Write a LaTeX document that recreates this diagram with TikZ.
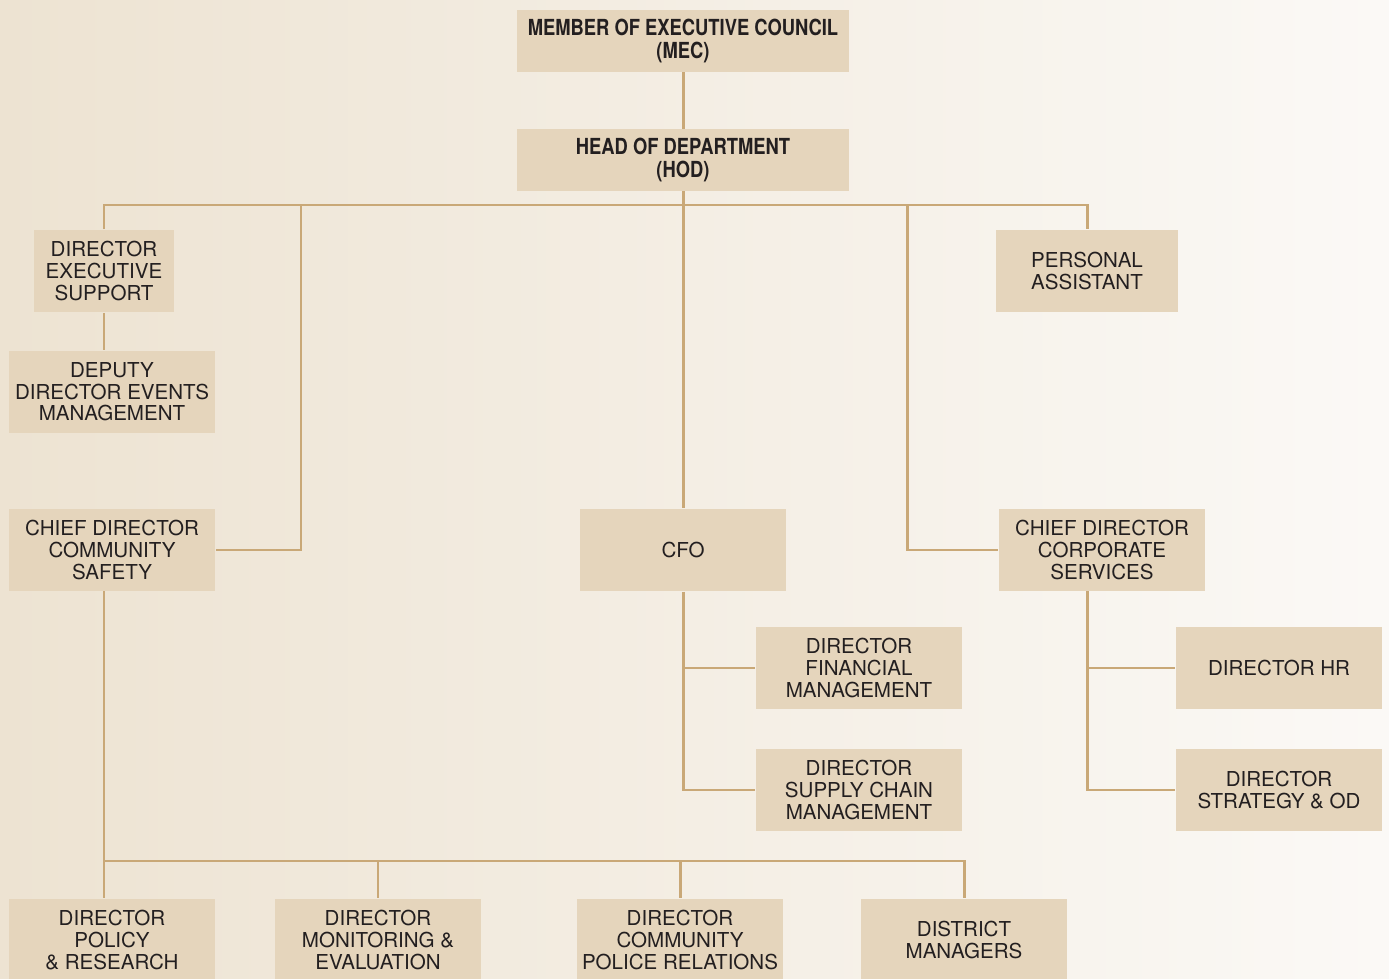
\documentclass[tikz,border=0pt]{standalone}
\usepackage{fontspec}
\setmainfont{TeX Gyre Heros}
\newfontfamily\condfont[FakeStretch=0.83]{TeX Gyre Heros}
\usetikzlibrary{positioning}

\definecolor{boxfill}{RGB}{229,213,188}
\definecolor{linkcol}{RGB}{201,168,119}
\definecolor{textcol}{RGB}{35,31,32}
\definecolor{bgleft}{RGB}{237,227,210}
\definecolor{bgright}{RGB}{251,249,246}

\begin{document}
\begin{tikzpicture}[x=0.02cm, y=-0.02cm,
    box/.style={fill=boxfill, text=textcol, minimum width=4.14cm, minimum height=1.66cm,
        inner sep=0pt, align=center, font=\fontsize{11.7}{12.3}\selectfont},
    topbox/.style={box, minimum width=6.64cm, minimum height=1.24cm,
        font=\condfont\bfseries\fontsize{12.6}{13.6}\selectfont},
    link/.style={draw=linkcol, line width=1.7pt}]
    % Background
    \useasboundingbox (0,0) rectangle (1389,979);
    \shade[left color=bgleft, right color=bgright] (0,0) rectangle (1389,979);

    % Top of the chart
    \node[topbox] (mec) at (683,41) {MEMBER OF EXECUTIVE COUNCIL\\(MEC)};
    \node[topbox] (hod) at (683,160) {HEAD OF DEPARTMENT\\(HOD)};

    % Second level
    \node[box, minimum width=2.8cm] (des) at (104,271) {DIRECTOR\\EXECUTIVE\\SUPPORT};
    \node[box] (dem) at (112,392) {DEPUTY\\DIRECTOR EVENTS\\MANAGEMENT};
    \node[box, minimum width=3.64cm] (pa) at (1087,271) {PERSONAL\\ASSISTANT};
    \node[box] (cdcs) at (112,550) {CHIEF DIRECTOR\\COMMUNITY\\SAFETY};
    \node[box] (cfo) at (683,550) {CFO};
    \node[box] (cdcorp) at (1102,550) {CHIEF DIRECTOR\\CORPORATE\\SERVICES};

    % Directors under CFO and corporate services
    \node[box] (dfm) at (859,668) {DIRECTOR\\FINANCIAL\\MANAGEMENT};
    \node[box] (dscm) at (859,790) {DIRECTOR\\SUPPLY CHAIN\\MANAGEMENT};
    \node[box] (dhr) at (1279,668) {DIRECTOR HR};
    \node[box] (dsod) at (1279,790) {DIRECTOR\\STRATEGY \& OD};

    % Directors under community safety
    \node[box] (dpr) at (112,940) {DIRECTOR\\POLICY\\\& RESEARCH};
    \node[box] (dme) at (378,940) {DIRECTOR\\MONITORING \&\\EVALUATION};
    \node[box] (dcpr) at (680,940) {DIRECTOR\\COMMUNITY\\POLICE RELATIONS};
    \node[box] (dm) at (964,940) {DISTRICT\\MANAGERS};

    % Connectors
    \coordinate (bus) at (683,205);
    \coordinate (csjoin) at (301,205);
    \coordinate (corpjoin) at (907,205);
    \coordinate (corpdrop) at (1087,591);
    \coordinate (csdrop) at (104,591);
    \coordinate (lowbus) at (104,861);

    \draw[link] (mec) -- (hod);
    \draw[link] (hod) -- (cfo);
    \draw[link] (des.north) |- (bus) -| (pa.north);
    \draw[link] (des.south) -- (des.south|-dem.north);
    \draw[link] (csjoin) |- (cdcs.east);
    \draw[link] (corpjoin) |- (cdcorp.west);
    \draw[link] (cfo.south) |- (dfm.west);
    \draw[link] (cfo.south) |- (dscm.west);
    \draw[link] (corpdrop) |- (dhr.west);
    \draw[link] (corpdrop) |- (dsod.west);
    \draw[link] (csdrop) -- (csdrop|-dpr.north);
    \draw[link] (lowbus) -| (dme.north);
    \draw[link] (lowbus) -| (dcpr.north);
    \draw[link] (lowbus) -| (dm.north);
\end{tikzpicture}
\end{document}
